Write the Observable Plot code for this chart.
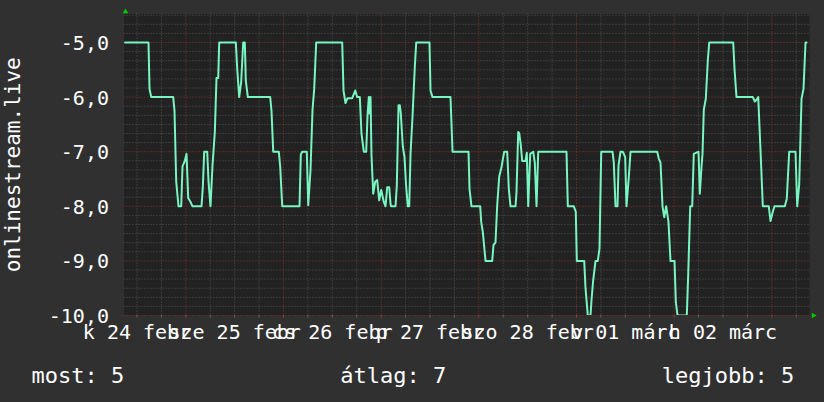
<!DOCTYPE html>
<html><head><meta charset="utf-8">
<script src="https://cdn.jsdelivr.net/npm/d3@7"></script>
<script src="https://cdn.jsdelivr.net/npm/@observablehq/plot@0.6"></script>
<style>html,body{margin:0;padding:0;background:#303030;overflow:hidden}</style>
</head><body><div id="chart"></div>
<script>
// hours since 2026-02-24 00:00 (UTC) and the value read at each vertex
const hours = [9.06,14.83,15.08,15.50,20.90,21.22,21.64,22.21,22.87,23.19,23.75,24.17,24.59,25.15,25.65,27.86,28.18,28.52,29.26,29.58,30.07,30.56,31.13,31.54,31.96,32.21,36.29,36.63,37.12,37.61,38.10,38.50,38.74,39.24,44.74,45.06,45.48,46.85,47.20,47.69,51.94,52.26,52.60,53.73,54.08,54.64,55.13,55.55,56.04,62.43,62.75,63.24,63.73,64.89,65.63,66.12,66.76,67.17,67.74,68.33,68.65,68.97,69.14,69.39,69.63,70.05,70.54,71.03,71.52,72.02,72.65,73.07,73.49,73.98,74.30,74.42,75.53,75.85,76.27,76.59,76.83,77.32,77.74,78.11,78.55,78.90,79.22,79.71,80.27,80.62,83.88,84.13,84.62,89.04,89.54,93.47,93.71,94.20,96.34,96.59,96.98,97.65,99.29,99.61,100.10,100.52,101.01,101.58,102.24,102.98,103.37,103.79,105.02,105.26,105.68,105.93,106.32,106.66,107.47,107.79,108.14,108.63,109.37,109.76,110.18,110.60,117.55,117.87,119.34,119.83,120.08,121.90,122.22,122.78,123.45,123.69,124.11,124.68,125.24,125.66,126.08,128.85,129.17,129.59,130.08,130.33,130.82,131.38,131.97,132.29,132.86,133.28,139.84,140.23,140.65,141.14,141.56,142.05,142.61,143.10,144.09,144.41,144.83,147.11,147.45,147.95,148.44,148.83,149.99,150.31,150.72,150.97,151.29,151.78,152.27,152.62,158.51,158.83,159.32,163.33,163.82,164.24,164.66,165.15,165.79,167.26,167.68,168.24,168.66,171.19,171.68,172.27,173.82,174.24,174.73,175.30,175.79,176.28,176.53];
const values = [-5,-5,-5.85,-6,-6,-6.25,-7.55,-8,-8,-7.27,-7.17,-7.04,-7.85,-7.92,-8,-8,-7.65,-7,-7,-7.55,-8,-7.25,-6.64,-5.65,-5.65,-5,-5,-5.48,-6,-5.72,-5,-5,-5.7,-6,-6,-6.26,-7,-7,-7.28,-8,-8,-7.05,-7,-7,-7.98,-7.34,-6.24,-5.85,-5,-5,-5.88,-6.11,-6.02,-6.02,-5.88,-6,-6,-6.67,-7,-7,-6.34,-6,-6.3,-6,-7.07,-7.77,-7.55,-7.52,-7.89,-7.7,-7.92,-8,-7.65,-7.65,-7.95,-8,-8,-7.62,-6.15,-6.15,-6.3,-6.9,-7.1,-7.6,-8,-8,-7.04,-6.35,-5.45,-5,-5,-5.88,-6,-6,-7,-7,-7.68,-8,-8,-8.29,-8.47,-9,-9,-8.71,-8.66,-7.98,-7.46,-7.28,-7,-7,-7.68,-8,-8,-7.74,-6.64,-6.66,-6.88,-7.17,-7.17,-7.02,-8,-7.04,-7,-7.2,-8,-7,-7,-8,-8,-8.1,-9,-9,-9.5,-10,-10,-9.72,-9.35,-9,-9,-8.77,-7,-7,-7.2,-8,-8,-7.25,-7,-7,-7.1,-8,-7.46,-7,-7,-7.13,-7.2,-8,-8.2,-8,-8.29,-9,-9,-9.75,-10,-10,-9.26,-8,-8,-7.04,-7,-7.77,-7.28,-7.04,-6.23,-6.03,-5.33,-5,-5,-5.48,-6,-6,-6.08,-6.05,-6,-6.85,-8,-8,-8.27,-8.1,-8,-8,-7.86,-7,-7,-8,-7.6,-6.03,-5.85,-5,-5];
const yTicks = [-10,-9,-8,-7,-6,-5];
const yTickLabels = ["-10,0","-9,0","-8,0","-7,0","-6,0","-5,0"];
const dayDates = ["2026-02-24","2026-02-25","2026-02-26","2026-02-27","2026-02-28","2026-03-01","2026-03-02"];
const dayLabels = ["k 24 febr","sze 25 febr","cs 26 febr","p 27 febr","szo 28 febr","v 01 márc","h 02 márc"];
const yTitle = "onlinestream.live";
const summaryLabels = ["most: 5","átlag: 7","legjobb: 5"];

const t0 = Date.UTC(2026,1,24);
const H = 3600000;
const data = hours.map((h,i)=>({t:new Date(t0+h*H), v:values[i]}));
const xDomain = [new Date(t0+8.81*H), new Date(t0+177.26*H)];
const yDomain = [-10,-4.478];

const majorX = d3.utcDay.range(xDomain[0], xDomain[1]);
const minorX = d3.utcHour.every(6).range(xDomain[0], xDomain[1]).filter(d=>d.getUTCHours()!==0);
const minorY = [];
for (let k=-60;k<=-27;k++){ if (k%6!==0) minorY.push(k/6); }
const days = dayDates.map((d,i)=>({t:new Date(Date.parse(d+"T12:00:00Z")), label:dayLabels[i]}));
const yLab = yTicks.map((v,i)=>({v, label:yTickLabels[i]}));

const upArrow = {draw(ctx){ctx.moveTo(0,-2.6);ctx.lineTo(2.8,2.2);ctx.lineTo(-2.8,2.2);ctx.closePath();}};
const rightArrow = {draw(ctx){ctx.moveTo(2.6,0);ctx.lineTo(-2.2,2.8);ctx.lineTo(-2.2,-2.8);ctx.closePath();}};

const white = "#ffffff";
const chart = Plot.plot({
  width:824, height:402,
  marginLeft:123.5, marginRight:15, marginTop:13.5, marginBottom:87,
  style:{background:"#303030", fontFamily:"'DejaVu Sans Mono', monospace", color:white},
  x:{type:"utc", domain:xDomain, axis:null},
  y:{domain:yDomain, axis:null},
  marks:[
    Plot.frame({fill:"#222222", stroke:null}),
    Plot.ruleX(minorX, {stroke:"#555555", strokeDasharray:"1,2"}),
    Plot.ruleY(minorY, {stroke:"#555555", strokeDasharray:"1,2"}),
    Plot.ruleX(majorX, {stroke:"#8a3434", strokeDasharray:"1,2"}),
    Plot.ruleY(yTicks, {stroke:"#8a3434", strokeDasharray:"1,2"}),
    Plot.ruleX(minorX, {y1:-10, y2:-10.045, stroke:"#666666"}),
    Plot.ruleX(majorX, {y1:-10, y2:-10.045, stroke:"#aa3a3a"}),
    Plot.line(data, {x:"t", y:"v", stroke:"#78f5c0", strokeWidth:2, clip:true}),
    Plot.text(yLab, {frameAnchor:"left", y:"v", text:"label", textAnchor:"end", lineAnchor:"middle", dx:-15, dy:1, fontSize:20, fill:white}),
    Plot.text(days, {x:"t", frameAnchor:"bottom", text:"label", textAnchor:"middle", lineAnchor:"bottom", dy:23, fontSize:20, fill:white}),
    Plot.text([yTitle], {frameAnchor:"left", text:d=>d, rotate:-90, textAnchor:"middle", lineAnchor:"bottom", dx:-104, fontSize:21, fill:white}),
    Plot.text([summaryLabels[0]], {frameAnchor:"bottom-left", text:d=>d, textAnchor:"start", lineAnchor:"bottom", dx:31-123.5, dy:67, fontSize:22, fill:white}),
    Plot.text([summaryLabels[1]], {frameAnchor:"bottom-left", text:d=>d, textAnchor:"start", lineAnchor:"bottom", dx:339.7-123.5, dy:67, fontSize:22, fill:white}),
    Plot.text([summaryLabels[2]], {frameAnchor:"bottom-left", text:d=>d, textAnchor:"start", lineAnchor:"bottom", dx:661.3-123.5, dy:67, fontSize:22, fill:white}),
    Plot.dot([0], {frameAnchor:"top-left", symbol:upArrow, fill:"#00cc00", stroke:null, dx:1.5, dy:-3}),
    Plot.dot([0], {frameAnchor:"bottom-right", symbol:rightArrow, fill:"#00cc00", stroke:null, dx:4.5, dy:0})
  ]
});
document.getElementById("chart").appendChild(chart);
</script>
</body></html>
